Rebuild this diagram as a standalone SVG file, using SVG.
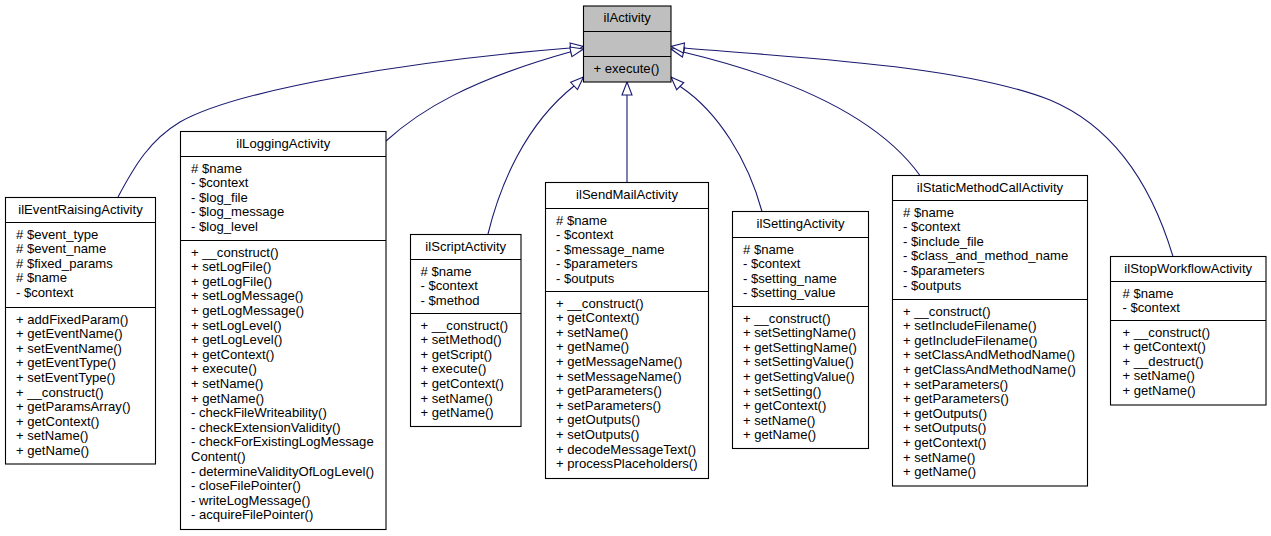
<svg xmlns="http://www.w3.org/2000/svg" width="1271" height="536" viewBox="0 0 1271 536">
<style>
text{font-family:"Liberation Sans",Arial,sans-serif;font-size:13.1px;fill:#000}
.t{text-anchor:middle}
.box{fill:#fff;stroke:#000;stroke-width:1.1}
.base{fill:#bfbfbf;stroke:#000;stroke-width:1.1}
.div{stroke:#000;stroke-width:1.1}
.e{fill:none;stroke:#191970;stroke-width:1.1;marker-end:url(#inh)}
</style>
<defs>
<marker id="inh" markerUnits="userSpaceOnUse" markerWidth="16" markerHeight="12" refX="13" refY="5" orient="auto" overflow="visible">
<path d="M0,0 L13,5 L0,10 Z" fill="#fff" stroke="#191970" stroke-width="1.1"/>
</marker>
</defs>
<rect width="1271" height="536" fill="#fff"/>
<g id="edges">
<path class="e" d="M118,197 C135,165 150,140 180,122 C240,88 420,60 570,48 L583.5,46.5"/>
<path class="e" d="M386,141 C420,110 470,80 570,52 L583.5,49"/>
<path class="e" d="M488,234 C500,185 525,125 574,86 L583.5,77"/>
<path class="e" d="M627,182.5 L627,82"/>
<path class="e" d="M762,211.5 C748,160 718,112 681,87 L671,77"/>
<path class="e" d="M920,175.5 C880,120 800,80 683,52 L671,49"/>
<path class="e" d="M1173,256.5 C1150,180 1110,125 1050,100 C960,65 800,58 684,48 L671,46.5"/>
</g>
<g id="ilActivity">
<rect class="base" x="583.5" y="6" width="87.5" height="76"/>
<line class="div" x1="583.5" y1="31.5" x2="671" y2="31.5"/>
<line class="div" x1="583.5" y1="56.5" x2="671" y2="56.5"/>
<text class="t" x="627.25" y="21.5">ilActivity</text>
<text x="593.5" y="72.5">+ execute()</text>
</g>
<g id="ilEventRaisingActivity">
<rect class="box" x="5.5" y="197.5" width="150" height="266.5"/>
<line class="div" x1="5.5" y1="222.5" x2="155.5" y2="222.5"/>
<line class="div" x1="5.5" y1="307.5" x2="155.5" y2="307.5"/>
<text class="t" x="80.5" y="213.5">ilEventRaisingActivity</text>
<text x="16" y="238.5"><tspan x="16"># $event_type</tspan><tspan x="16" dy="14.6"># $event_name</tspan><tspan x="16" dy="14.6"># $fixed_params</tspan><tspan x="16" dy="14.6"># $name</tspan><tspan x="16" dy="14.6">- $context</tspan></text>
<text x="16" y="323.5"><tspan x="16">+ addFixedParam()</tspan><tspan x="16" dy="14.6">+ getEventName()</tspan><tspan x="16" dy="14.6">+ setEventName()</tspan><tspan x="16" dy="14.6">+ getEventType()</tspan><tspan x="16" dy="14.6">+ setEventType()</tspan><tspan x="16" dy="14.6">+ __construct()</tspan><tspan x="16" dy="14.6">+ getParamsArray()</tspan><tspan x="16" dy="14.6">+ getContext()</tspan><tspan x="16" dy="14.6">+ setName()</tspan><tspan x="16" dy="14.6">+ getName()</tspan></text>
</g>
<g id="ilLoggingActivity">
<rect class="box" x="180.5" y="131.5" width="205.5" height="398"/>
<line class="div" x1="180.5" y1="156.5" x2="386" y2="156.5"/>
<line class="div" x1="180.5" y1="240.5" x2="386" y2="240.5"/>
<text class="t" x="283.25" y="147.5">ilLoggingActivity</text>
<text x="191" y="172.5"><tspan x="191"># $name</tspan><tspan x="191" dy="14.6">- $context</tspan><tspan x="191" dy="14.6">- $log_file</tspan><tspan x="191" dy="14.6">- $log_message</tspan><tspan x="191" dy="14.6">- $log_level</tspan></text>
<text x="191" y="256.5"><tspan x="191">+ __construct()</tspan><tspan x="191" dy="14.6">+ setLogFile()</tspan><tspan x="191" dy="14.6">+ getLogFile()</tspan><tspan x="191" dy="14.6">+ setLogMessage()</tspan><tspan x="191" dy="14.6">+ getLogMessage()</tspan><tspan x="191" dy="14.6">+ setLogLevel()</tspan><tspan x="191" dy="14.6">+ getLogLevel()</tspan><tspan x="191" dy="14.6">+ getContext()</tspan><tspan x="191" dy="14.6">+ execute()</tspan><tspan x="191" dy="14.6">+ setName()</tspan><tspan x="191" dy="14.6">+ getName()</tspan><tspan x="191" dy="14.6">- checkFileWriteability()</tspan><tspan x="191" dy="14.6">- checkExtensionValidity()</tspan><tspan x="191" dy="14.6">- checkForExistingLogMessage</tspan><tspan x="191" dy="14.6">Content()</tspan><tspan x="191" dy="14.6">- determineValidityOfLogLevel()</tspan><tspan x="191" dy="14.6">- closeFilePointer()</tspan><tspan x="191" dy="14.6">- writeLogMessage()</tspan><tspan x="191" dy="14.6">- acquireFilePointer()</tspan></text>
</g>
<g id="ilScriptActivity">
<rect class="box" x="410.5" y="234.5" width="110.5" height="192"/>
<line class="div" x1="410.5" y1="259.5" x2="521" y2="259.5"/>
<line class="div" x1="410.5" y1="313.5" x2="521" y2="313.5"/>
<text class="t" x="465.75" y="250.5">ilScriptActivity</text>
<text x="420.5" y="275.5"><tspan x="420.5"># $name</tspan><tspan x="420.5" dy="14.6">- $context</tspan><tspan x="420.5" dy="14.6">- $method</tspan></text>
<text x="420.5" y="329.5"><tspan x="420.5">+ __construct()</tspan><tspan x="420.5" dy="14.6">+ setMethod()</tspan><tspan x="420.5" dy="14.6">+ getScript()</tspan><tspan x="420.5" dy="14.6">+ execute()</tspan><tspan x="420.5" dy="14.6">+ getContext()</tspan><tspan x="420.5" dy="14.6">+ setName()</tspan><tspan x="420.5" dy="14.6">+ getName()</tspan></text>
</g>
<g id="ilSendMailActivity">
<rect class="box" x="545.5" y="182.5" width="163" height="296"/>
<line class="div" x1="545.5" y1="208.5" x2="708.5" y2="208.5"/>
<line class="div" x1="545.5" y1="291.5" x2="708.5" y2="291.5"/>
<text class="t" x="627" y="198.5">ilSendMailActivity</text>
<text x="556" y="224.5"><tspan x="556"># $name</tspan><tspan x="556" dy="14.6">- $context</tspan><tspan x="556" dy="14.6">- $message_name</tspan><tspan x="556" dy="14.6">- $parameters</tspan><tspan x="556" dy="14.6">- $outputs</tspan></text>
<text x="556" y="307.5"><tspan x="556">+ __construct()</tspan><tspan x="556" dy="14.6">+ getContext()</tspan><tspan x="556" dy="14.6">+ setName()</tspan><tspan x="556" dy="14.6">+ getName()</tspan><tspan x="556" dy="14.6">+ getMessageName()</tspan><tspan x="556" dy="14.6">+ setMessageName()</tspan><tspan x="556" dy="14.6">+ getParameters()</tspan><tspan x="556" dy="14.6">+ setParameters()</tspan><tspan x="556" dy="14.6">+ getOutputs()</tspan><tspan x="556" dy="14.6">+ setOutputs()</tspan><tspan x="556" dy="14.6">+ decodeMessageText()</tspan><tspan x="556" dy="14.6">+ processPlaceholders()</tspan></text>
</g>
<g id="ilSettingActivity">
<rect class="box" x="732.5" y="211.5" width="136" height="237"/>
<line class="div" x1="732.5" y1="237.5" x2="868.5" y2="237.5"/>
<line class="div" x1="732.5" y1="306.5" x2="868.5" y2="306.5"/>
<text class="t" x="800.5" y="227.5">ilSettingActivity</text>
<text x="743" y="253.5"><tspan x="743"># $name</tspan><tspan x="743" dy="14.6">- $context</tspan><tspan x="743" dy="14.6">- $setting_name</tspan><tspan x="743" dy="14.6">- $setting_value</tspan></text>
<text x="743" y="322.5"><tspan x="743">+ __construct()</tspan><tspan x="743" dy="14.6">+ setSettingName()</tspan><tspan x="743" dy="14.6">+ getSettingName()</tspan><tspan x="743" dy="14.6">+ setSettingValue()</tspan><tspan x="743" dy="14.6">+ getSettingValue()</tspan><tspan x="743" dy="14.6">+ setSetting()</tspan><tspan x="743" dy="14.6">+ getContext()</tspan><tspan x="743" dy="14.6">+ setName()</tspan><tspan x="743" dy="14.6">+ getName()</tspan></text>
</g>
<g id="ilStaticMethodCallActivity">
<rect class="box" x="892.5" y="175.5" width="195" height="310.5"/>
<line class="div" x1="892.5" y1="200.5" x2="1087.5" y2="200.5"/>
<line class="div" x1="892.5" y1="299.5" x2="1087.5" y2="299.5"/>
<text class="t" x="990" y="191.5">ilStaticMethodCallActivity</text>
<text x="903" y="216.5"><tspan x="903"># $name</tspan><tspan x="903" dy="14.6">- $context</tspan><tspan x="903" dy="14.6">- $include_file</tspan><tspan x="903" dy="14.6">- $class_and_method_name</tspan><tspan x="903" dy="14.6">- $parameters</tspan><tspan x="903" dy="14.6">- $outputs</tspan></text>
<text x="903" y="315.5"><tspan x="903">+ __construct()</tspan><tspan x="903" dy="14.6">+ setIncludeFilename()</tspan><tspan x="903" dy="14.6">+ getIncludeFilename()</tspan><tspan x="903" dy="14.6">+ setClassAndMethodName()</tspan><tspan x="903" dy="14.6">+ getClassAndMethodName()</tspan><tspan x="903" dy="14.6">+ setParameters()</tspan><tspan x="903" dy="14.6">+ getParameters()</tspan><tspan x="903" dy="14.6">+ getOutputs()</tspan><tspan x="903" dy="14.6">+ setOutputs()</tspan><tspan x="903" dy="14.6">+ getContext()</tspan><tspan x="903" dy="14.6">+ setName()</tspan><tspan x="903" dy="14.6">+ getName()</tspan></text>
</g>
<g id="ilStopWorkflowActivity">
<rect class="box" x="1110.5" y="256.5" width="155.5" height="148.5"/>
<line class="div" x1="1110.5" y1="281.5" x2="1266" y2="281.5"/>
<line class="div" x1="1110.5" y1="320.5" x2="1266" y2="320.5"/>
<text class="t" x="1188.25" y="272.5">ilStopWorkflowActivity</text>
<text x="1122.5" y="297.5"><tspan x="1122.5"># $name</tspan><tspan x="1122.5" dy="14.6">- $context</tspan></text>
<text x="1122.5" y="336.5"><tspan x="1122.5">+ __construct()</tspan><tspan x="1122.5" dy="14.6">+ getContext()</tspan><tspan x="1122.5" dy="14.6">+ __destruct()</tspan><tspan x="1122.5" dy="14.6">+ setName()</tspan><tspan x="1122.5" dy="14.6">+ getName()</tspan></text>
</g>
</svg>
